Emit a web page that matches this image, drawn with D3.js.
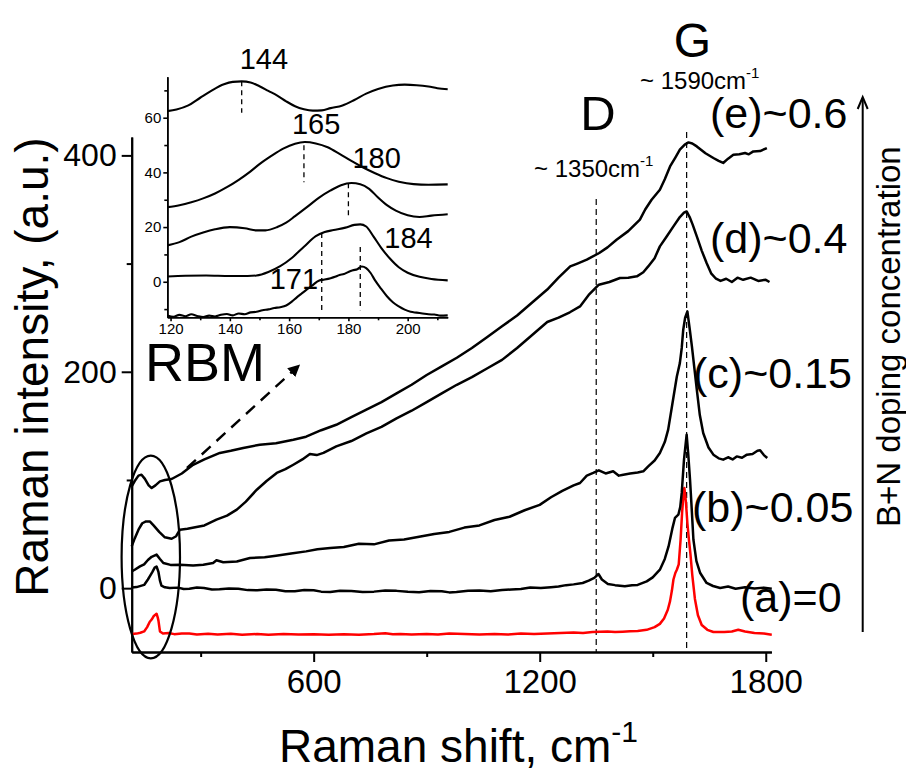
<!DOCTYPE html>
<html>
<head>
<meta charset="utf-8">
<script src="https://cdn.jsdelivr.net/npm/d3@7"></script>
<style>
  html, body { margin: 0; padding: 0; background: #fff; }
  svg { display: block; }
  text { font-family: "Liberation Sans", Arial, Helvetica, sans-serif; fill: #000; }
</style>
</head>
<body>
<svg id="chart" width="906" height="771"></svg>
<script>
// ---- Raman spectra, main panel (shift in cm-1, intensity in a.u.) ----
const spectrumA = [[117,-42.3],[130,-42],[140,-41.2],[150,-40],[158,-36],[165,-31],[170,-29],[175,-26],[180,-24.5],[183,-23.6],[186,-27],[188,-30],[192,-40],[200,-42],[215,-41.4],[230,-42.5],[250,-41.8],[270,-42],[290,-42.9],[320,-42.1],[345,-42.8],[380,-42.2],[410,-43.1],[450,-42.4],[480,-43],[520,-42.4],[560,-42.9],[600,-42.5],[640,-43.1],[680,-42.5],[720,-43],[760,-42.4],[790,-41.7],[810,-42.6],[830,-42.3],[860,-42.9],[900,-42.4],[930,-42.9],[960,-41.8],[1000,-42.3],[1040,-42.8],[1080,-42.4],[1115,-42.9],[1150,-42],[1185,-42.4],[1220,-41.8],[1255,-41.5],[1290,-41],[1315,-41.4],[1340,-40.6],[1360,-40.2],[1380,-40],[1400,-40.6],[1420,-40.2],[1440,-39.8],[1460,-39.5],[1484,-38.5],[1505,-36],[1519,-33],[1530,-28],[1540,-20],[1546,-12],[1551,-2],[1555,8],[1560,14],[1564,17],[1569,22],[1574,45],[1578,70],[1582,88],[1584,92.6],[1588,80],[1592,60],[1596,45],[1600,32],[1605,12],[1612,-10],[1620,-25],[1630,-34],[1645,-38.5],[1661,-40.5],[1690,-40.5],[1710,-40],[1727,-38.4],[1745,-40],[1770,-41.5],[1795,-42],[1816,-43]];

const spectrumB = [[117,0.7],[130,1],[150,3],[160,8],[165,10.9],[172,15],[178,19],[183,20],[188,15],[192,7],[196,2.3],[205,0.8],[218,0.2],[240,0.5],[255,-0.8],[270,-0.5],[290,0.6],[309,0.2],[330,-1.2],[350,-1],[375,-0.2],[400,-0.5],[425,-1.8],[450,-2],[475,-1.2],[500,-1.5],[525,-2.9],[550,-2.8],[575,-1.6],[600,-2],[620,-3.2],[644,-3.5],[670,-2.4],[700,-2.6],[730,-3.6],[760,-3.2],[790,-2.2],[820,-2.5],[850,-3.4],[880,-3.8],[910,-2.6],[940,-2.8],[960,-3.9],[979,-3.5],[1010,-2.4],[1040,-2.2],[1070,-2.9],[1100,-1.8],[1125,-1.2],[1150,-0.8],[1175,0.6],[1203,0.2],[1230,0.9],[1250,1.5],[1270,2.8],[1290,3.5],[1314,4.8],[1330,7],[1345,9.5],[1356,13.1],[1365,8],[1381,3.9],[1400,2.8],[1426,1.7],[1445,2.6],[1460,3],[1484,6.3],[1500,10],[1519,17.1],[1532,27],[1542,38.6],[1552,55],[1559,64.9],[1568,67.9],[1573,75],[1577,88],[1583,118.8],[1590,141.9],[1594,125],[1599,100.3],[1604,70],[1608,44.8],[1616,25],[1626,14],[1643,4.8],[1660,2],[1679,0.2],[1700,1.5],[1720,-0.5],[1745,0.8],[1770,-0.3],[1795,0.5],[1816,-0.5]];

const spectrumC = [[117,15.5],[125,17],[139,20.1],[150,22],[160,26],[170,29],[183,31],[192,27],[201,23.3],[220,21.5],[245,21.7],[280,21],[307,21.7],[333,23.3],[342,25.8],[360,24],[396,24.7],[431,27.9],[470,28.5],[500,30],[540,32],[580,34],[610,36],[644,37.2],[680,38],[720,41],[760,40.5],[800,44],[840,45],[880,47.5],[920,50],[960,52],[1000,56],[1040,58],[1080,63],[1120,66],[1160,72],[1200,77],[1230,84],[1260,90],[1290,95],[1307,97.2],[1325,104],[1342,106.5],[1357,108.9],[1375,106],[1395,108],[1410,104],[1422,104.9],[1440,106],[1460,107],[1475,108],[1488,112.6],[1505,118],[1519,125],[1532,135],[1541,146.5],[1552,170],[1564,195.7],[1572,208],[1577,222],[1581,238.9],[1586,250],[1592,255.8],[1598,240],[1604,223.5],[1610,205],[1617,183.5],[1625,160],[1634,143.4],[1648,130],[1661,123.4],[1675,120],[1687,118.8],[1700,121],[1712,119],[1723,121.8],[1737,120.5],[1750,123.4],[1765,124],[1778,127],[1785,127.4],[1795,123],[1804,120.3]];

const spectrumD = [[117,38.6],[125,46],[135,54],[145,60],[155,61.7],[165,61.7],[175,58],[190,52],[205,47],[223,45.7],[235,48],[245,54],[265,55],[289,56.6],[310,58],[342,63.3],[370,67],[396,72.6],[420,80],[449,91],[475,99],[502,106.5],[525,110],[546,114.1],[570,119],[590,124],[608,123],[626,125],[660,131],[700,136],[740,143],[780,149],[820,157],[860,164],[900,172],[940,180],[980,188],[1020,195],[1060,203],[1100,211],[1140,222],[1180,234],[1220,246],[1250,250],[1280,255],[1307,260.4],[1330,271],[1357,280.5],[1385,283],[1413,286.7],[1435,287],[1458,288.2],[1475,292],[1488,297.4],[1505,305],[1519,315.9],[1537,325],[1555,334.4],[1572,343],[1583,347],[1590,348.2],[1598,343],[1606,336],[1617,325.1],[1630,312],[1643,300.5],[1655,291],[1668,286],[1680,284],[1695,286],[1710,283],[1725,287],[1740,285],[1760,287],[1780,284],[1800,285],[1810,283]];

const spectrumE = [[117,94],[125,99],[135,104],[143,104.9],[152,101],[162,95],[170,92.6],[180,95],[192,98.7],[205,100],[223,100.9],[250,106],[280,114],[310,119],[351,125],[380,127],[413,129.6],[457,132.6],[500,134],[546,137.2],[580,140],[620,146],[660,151],[700,158],[740,165],[780,172],[820,180],[860,188],[900,197],[940,205],[980,213],[1020,222],[1060,232],[1100,242],[1140,252],[1180,264],[1220,276],[1250,287],[1281,297.4],[1300,300],[1325,303.6],[1358,309.8],[1380,315],[1404,322],[1435,330],[1466,340.6],[1480,350],[1497,359],[1519,368.3],[1532,378],[1546,389.8],[1560,398],[1572,405.3],[1585,410],[1595,412],[1605,411],[1617,408.3],[1640,402],[1661,397.6],[1675,395],[1687,393],[1700,397],[1714,400.6],[1730,401],[1745,402.2],[1755,401],[1767,403.7],[1785,404],[1803,406.8]];

const seriesColors = ["#ff0000", "#000000", "#000000", "#000000", "#000000"];
const seriesLabels = ["(a)=0", "(b)~0.05", "(c)~0.15", "(d)~0.4", "(e)~0.6"];

// ---- RBM region, inset (shift in cm-1, intensity in a.u.) ----
const rbmA = [[118.9,-12.3],[121,-12.8],[123,-12.1],[125,-12.6],[127,-11.9],[129,-12.5],[131,-12.9],[133,-12.4],[135,-12.7],[137,-12.1],[139,-11.8],[141,-12.3],[143,-11.6],[145,-11.9],[147,-11.2],[149,-11.0],[151,-10.4],[153,-10.1],[155,-9.6],[157,-9.3],[159,-8.7],[161,-7.2],[162.5,-5.8],[164,-4.5],[166,-2.8],[168,-1.2],[170,0.4],[172,0.8],[174,1.3],[175.5,1.8],[177,2.5],[178.5,2.8],[180,3.6],[181.5,4.2],[183,4.6],[184.5,5.6],[186,5.0],[187.5,3.2],[189,0.5],[191,-2.5],[193,-5.3],[195,-7.5],[197,-9],[199,-10.2],[201,-11.0],[203,-11.3],[205,-11.6],[207,-11.9],[209,-12],[211,-12.4],[213.5,-12.3]];
const rbmB = [[118.9,1.9],[125,2.2],[132,2.3],[140,2.1],[146,2.1],[149,2.3],[153,3.6],[157,5.7],[161,8.8],[165,12.8],[169,16.7],[172,18.2],[175,18.9],[179,19.8],[182,20.8],[184,21],[186,20.2],[188.5,16.5],[191,12.5],[194,8.5],[197,5.3],[200,3.3],[204,1.8],[208,1.0],[213.5,0.5]];
const rbmC = [[118.9,13.3],[123,14.5],[127,16.5],[131,18],[135,19.2],[140,20],[145,19.6],[149,18.8],[152,18.8],[156,20],[159,21.6],[162,24],[166,27.3],[170,30.7],[174,33.4],[177.5,35.3],[181,36.1],[184,35.7],[187,34],[190,30.8],[193,28],[196,26],[200,24.3],[204,23.7],[208,24.2],[213.5,24.7]];
const rbmD = [[118.9,27.3],[123,28],[127,29.1],[131,30.5],[135,32.3],[139,34.6],[143,37.3],[147,40.4],[150,43],[154,46],[158,48.7],[162,50.5],[165.3,51.1],[169,50.6],[173,49.2],[177,46.8],[181,44.2],[185,41.8],[189,39.7],[193,37.9],[197,36.6],[202,35.7],[207,35.5],[213.5,35.6]];
const rbmE = [[118.9,62.4],[122,63],[126,64.5],[130,67.3],[134,70],[138,72.2],[141,73.1],[144,73.3],[147,72.9],[150,71.5],[153,69.8],[156,68.1],[159,66],[162,64.2],[165,63.1],[168,62.6],[171,62.7],[174,63.5],[178,64.5],[182,66.5],[186,68.8],[190,70.5],[195,71.8],[199,72.1],[203,71.9],[207,71.4],[210,70.8],[213.5,70.4]];

// RBM peak markers: position (cm-1) and the intensity span of each dashed marker
const rbmPeaks = [144, 165, 180, 184, 171];
const rbmPeakTop = [73.3, 49.9, 36.0, 12.7, 17.8];
const rbmPeakBottom = [61.8, 36.4, 23.2, -10.4, -11.5];

// Band positions (cm-1) in the main panel
const bandNames = ["D", "G"];
const bandPositions = [1350, 1590];

// Axis ticks
const xMajorTicks = [600, 1200, 1800];
const xMinorTicks = [300, 900, 1500];
const yMajorTicks = [0, 200, 400];
const yMinorTicks = [100, 300];
const insetXMajor = [120, 140, 160, 180, 200];
const insetXMinor = [130, 150, 170, 190, 210];
const insetYMajor = [0, 20, 40, 60];
const insetYMinor = [-10, 10, 30, 50, 70];

// ---------------------------------------------------------------
const svg = d3.select("#chart");
const FONT = '"Liberation Sans", Arial, Helvetica, sans-serif';

const x = d3.scaleLinear().domain([117, 1815]).range([131.7, 771.4]);
const y = d3.scaleLinear().domain([-59, 417]).range([652, 137]);

const line = d3.line().x(d => x(d[0])).y(d => y(d[1]));

function styleAxis(g, width, fontSize) {
  g.attr("font-family", FONT).attr("font-size", fontSize);
  g.selectAll("path.domain").attr("stroke", "#000").attr("stroke-width", width);
  g.selectAll(".tick line").attr("stroke", "#000").attr("stroke-width", width);
  g.selectAll(".tick text").attr("fill", "#000");
}

// band marker lines (dashed) behind the spectra
const bandTop = [199, 132];
bandPositions.forEach((b, i) => {
  svg.append("line")
    .attr("x1", x(b)).attr("x2", x(b))
    .attr("y1", bandTop[i]).attr("y2", y.range()[0])
    .attr("stroke", "#000").attr("stroke-width", 1.2)
    .attr("stroke-dasharray", "6,4");
});

// main axes
svg.append("g").attr("transform", "translate(0,652)")
  .call(d3.axisBottom(x).tickValues(xMinorTicks).tickSize(5).tickSizeOuter(0).tickFormat(""))
  .call(g => styleAxis(g, 2, 33));
svg.append("g").attr("transform", "translate(0,652)")
  .call(d3.axisBottom(x).tickValues(xMajorTicks).tickSize(10).tickSizeOuter(0).tickPadding(8).tickFormat(d3.format("d")))
  .call(g => styleAxis(g, 2, 33));
svg.append("g").attr("transform", "translate(131.7,0)")
  .call(d3.axisLeft(y).tickValues(yMinorTicks).tickSize(5).tickSizeOuter(0).tickFormat(""))
  .call(g => styleAxis(g, 2, 32));
svg.append("g").attr("transform", "translate(131.7,0)")
  .call(d3.axisLeft(y).tickValues(yMajorTicks).tickSize(10).tickSizeOuter(0).tickPadding(5).tickFormat(d3.format("d")))
  .call(g => styleAxis(g, 2, 32));

// spectra
const spectra = [spectrumA, spectrumB, spectrumC, spectrumD, spectrumE];
spectra.forEach((s, i) => {
  svg.append("path").datum(s)
    .attr("d", line)
    .attr("fill", "none")
    .attr("stroke", seriesColors[i])
    .attr("stroke-width", 2.5)
    .attr("stroke-linejoin", "round");
});

// ellipse around the RBM region
svg.append("ellipse")
  .attr("cx", 150.8).attr("cy", 557).attr("rx", 29.2).attr("ry", 101.3)
  .attr("fill", "none").attr("stroke", "#000").attr("stroke-width", 2.2);

// dashed arrow pointing to the inset
svg.append("defs").append("marker")
  .attr("id", "head").attr("viewBox", "0 0 10 10")
  .attr("refX", 2).attr("refY", 5)
  .attr("markerWidth", 5).attr("markerHeight", 5)
  .attr("markerUnits", "strokeWidth")
  .attr("orient", "auto")
  .append("path").attr("d", "M0,0 L10,5 L0,10 Z").attr("fill", "#000");
svg.append("line")
  .attr("x1", 187).attr("y1", 468).attr("x2", 293).attr("y2", 371)
  .attr("stroke", "#000").attr("stroke-width", 2.4)
  .attr("stroke-dasharray", "12,8")
  .attr("marker-end", "url(#head)");

svg.append("text").attr("x", 145).attr("y", 381)
  .attr("font-size", 54).text("RBM");

// ---- inset ----
const ix = d3.scaleLinear().domain([118.9, 213.5]).range([167.3, 447.7]);
const iy = d3.scaleLinear().domain([-13, 75]).range([317.3, 76.7]);
const iline = d3.line().x(d => ix(d[0])).y(d => iy(d[1])).curve(d3.curveMonotoneX);

svg.append("g").attr("transform", "translate(0,317.3)")
  .call(d3.axisBottom(ix).tickValues(insetXMinor).tickSize(3).tickSizeOuter(0).tickFormat(""))
  .call(g => styleAxis(g, 1.6, 15));
svg.append("g").attr("transform", "translate(0,317.3)")
  .call(d3.axisBottom(ix).tickValues(insetXMajor).tickSize(4).tickSizeOuter(0).tickPadding(2).tickFormat(d3.format("d")))
  .call(g => styleAxis(g, 1.6, 15));
svg.append("g").attr("transform", "translate(167.3,0)")
  .call(d3.axisLeft(iy).tickValues(insetYMinor).tickSize(3).tickSizeOuter(0).tickFormat(""))
  .call(g => styleAxis(g, 1.6, 15));
svg.append("g").attr("transform", "translate(167.3,0)")
  .call(d3.axisLeft(iy).tickValues(insetYMajor).tickSize(4).tickSizeOuter(0).tickPadding(2).tickFormat(d3.format("d")))
  .call(g => styleAxis(g, 1.6, 15));

rbmPeaks.forEach((p, i) => {
  svg.append("line")
    .attr("x1", ix(p)).attr("x2", ix(p))
    .attr("y1", iy(rbmPeakTop[i])).attr("y2", iy(rbmPeakBottom[i]))
    .attr("stroke", "#000").attr("stroke-width", 1.3)
    .attr("stroke-dasharray", "5,4");
});

[rbmA, rbmB, rbmC, rbmD, rbmE].forEach(s => {
  svg.append("path").datum(s)
    .attr("d", iline)
    .attr("fill", "none").attr("stroke", "#000")
    .attr("stroke-width", 2.1).attr("stroke-linejoin", "round");
});

// peak value labels, placed beside their marker lines
const peakLabelOffset = [[-2, 69], [-12, 134], [4, 168], [24, 248], [-52, 289]];
rbmPeaks.forEach((p, i) => {
  svg.append("text")
    .attr("x", ix(p) + peakLabelOffset[i][0]).attr("y", peakLabelOffset[i][1])
    .attr("font-size", 29).text(p);
});

// ---- band labels ----
svg.append("text").attr("x", x(bandPositions[0]) - 16).attr("y", 130)
  .attr("font-size", 49).text(bandNames[0]);
svg.append("text").attr("x", x(bandPositions[1]) - 13).attr("y", 57)
  .attr("font-size", 48).text(bandNames[1]);

function waveLabel(px, py, value) {
  const t = svg.append("text").attr("x", px).attr("y", py).attr("font-size", 24);
  t.append("tspan").text("~ " + value + "cm");
  t.append("tspan").attr("font-size", 15).attr("dy", -11).text("-1");
}
waveLabel(534, 177, bandPositions[0]);
waveLabel(640, 89, bandPositions[1]);

// ---- series labels on the right ----
const labelPos = [[740, 612], [692, 522], [693, 388], [710, 253], [710, 128]];
seriesLabels.forEach((l, i) => {
  svg.append("text").attr("x", labelPos[i][0]).attr("y", labelPos[i][1])
    .attr("font-size", 43).text(l);
});

// doping-concentration arrow
svg.append("line").attr("x1", 862.7).attr("x2", 862.7).attr("y1", 632).attr("y2", 98)
  .attr("stroke", "#000").attr("stroke-width", 2);
svg.append("path").attr("d", "M857.7,109 L862.7,97 L867.7,109")
  .attr("fill", "none").attr("stroke", "#000").attr("stroke-width", 2);
svg.append("text")
  .attr("transform", "translate(900,527) rotate(-90)")
  .attr("font-size", 33).text("B+N doping concentration");

// ---- axis titles ----
svg.append("text")
  .attr("transform", "translate(48,367) rotate(-90)")
  .attr("text-anchor", "middle")
  .attr("font-size", 46).text("Raman intensity, (a.u.)");
const xt = svg.append("text").attr("x", 279).attr("y", 762).attr("font-size", 46);
xt.append("tspan").text("Raman shift, cm");
xt.append("tspan").attr("font-size", 30).attr("dy", -20).text("-1");
</script>
</body>
</html>
